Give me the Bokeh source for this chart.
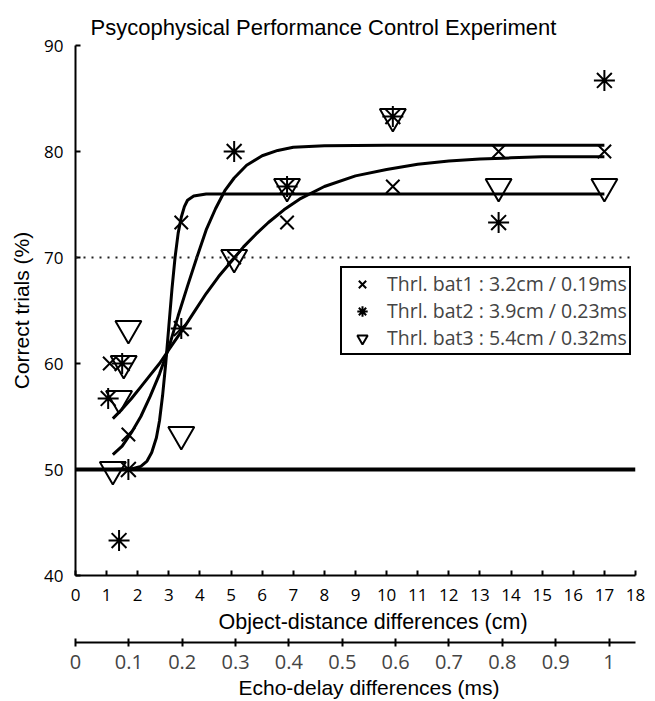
from bokeh.plotting import figure
from bokeh.models import (Range1d, LinearAxis, FixedTicker, Span, Legend, LegendItem, Title)
from bokeh.embed import file_html
from bokeh.resources import INLINE

# ---------------- data ----------------
# bat 1 (x markers)
bat1_cm = [1.1, 1.7, 3.4, 5.1, 6.8, 10.2, 13.6, 17.0]
bat1_pct = [60.0, 53.3, 73.3, 70.0, 73.3, 76.7, 80.0, 80.0]
# bat 2 (asterisks)
bat2_cm = [1.05, 1.5, 1.4, 1.7, 3.4, 5.1, 6.8, 10.2, 13.6, 17.0]
bat2_pct = [56.7, 60.0, 43.3, 50.0, 63.3, 80.0, 76.7, 83.3, 73.3, 86.7]
# bat 3 (triangles)
bat3_cm = [1.2, 1.4, 1.55, 1.7, 3.4, 5.1, 6.8, 10.2, 13.6, 17.0]
bat3_pct = [50.0, 56.7, 60.0, 63.3, 53.3, 70.0, 76.7, 83.3, 76.7, 76.7]

# fitted psychometric curves
fit1_cm = [1.2, 1.8, 2.1, 2.3, 2.45, 2.6, 2.7, 2.8, 2.9, 3.0, 3.1, 3.2, 3.3, 3.4, 3.5, 3.6, 3.8, 4.2, 17.0]
fit1_pct = [50.0, 50.05, 50.3, 50.8, 51.6, 53.0, 54.6, 57.0, 60.0, 63.5, 67.0, 70.0, 72.3, 73.8, 74.8, 75.4, 75.8, 76.0, 76.0]
fit2_cm = [1.2, 1.5, 1.8, 2.1, 2.4, 2.7, 3.0, 3.3, 3.6, 3.9, 4.2, 4.5, 4.8, 5.1, 5.5, 6.0, 6.5, 7.0, 8.0, 10.0, 17.0]
fit2_pct = [51.4, 52.2, 53.5, 55.0, 56.9, 59.0, 61.5, 64.5, 67.3, 70.0, 72.6, 74.6, 76.3, 77.5, 78.7, 79.6, 80.1, 80.4, 80.55, 80.6, 80.6]
fit3_cm = [1.2, 1.5, 1.8, 2.1, 2.4, 2.7, 3.0, 3.4, 3.8, 4.2, 4.6, 5.0, 5.4, 5.8, 6.2, 6.7, 7.2, 8.0, 9.0, 10.0, 11.0, 12.0, 13.0, 14.0, 15.0, 17.0]
fit3_pct = [54.8, 55.7, 56.7, 57.8, 58.9, 60.0, 61.3, 63.0, 64.8, 66.6, 68.2, 69.6, 71.0, 72.2, 73.3, 74.5, 75.5, 76.7, 77.7, 78.3, 78.8, 79.1, 79.3, 79.4, 79.5, 79.5]

chance_level = 50
criterion_level = 70

legend_labels = ["Thrl. bat1 : 3.2cm / 0.19ms",
                 "Thrl. bat2 : 3.9cm / 0.23ms",
                 "Thrl. bat3 : 5.4cm / 0.32ms"]

cm_ticks = list(range(0, 19))
pct_ticks = [40, 50, 60, 70, 80, 90]
ms_ticks = [0, 0.1, 0.2, 0.3, 0.4, 0.5, 0.6, 0.7, 0.8, 0.9, 1.0]
ms_labels = ["0", "0.1", "0.2", "0.3", "0.4", "0.5", "0.6", "0.7", "0.8", "0.9", "1"]
cm_max = 18
sound_speed_cm_per_ms = 34.3  # echo delay = 2 * distance / c

# ---------------- figure ----------------
TICK_FONT = "Open Sans"
LABEL_FONT = "Liberation Sans"

p = figure(frame_width=560, frame_height=530, x_range=Range1d(0, cm_max), y_range=Range1d(40, 90),
           output_backend="svg", toolbar_location=None,
           min_border_left=75, min_border_right=17, min_border_top=45, min_border_bottom=0)
p.xgrid.visible = False
p.ygrid.visible = False
p.outline_line_color = None
p.background_fill_color = "white"
p.border_fill_color = "white"

p.title.text = "Psycophysical Performance Control Experiment"
p.title.text_font = LABEL_FONT
p.title.text_font_size = "22px"
p.title.text_font_style = "normal"
p.title.align = "left"
p.title.vertical_align = "middle"
p.title.offset = 15
p.title.standoff = 10
p.title.text_color = "black"

for ax in (p.xaxis[0], p.yaxis[0]):
    ax.axis_line_width = 2
    ax.major_tick_line_width = 2
    ax.major_tick_in = 5
    ax.major_tick_out = 0
    ax.minor_tick_line_color = None
    ax.major_label_text_font = TICK_FONT
    ax.major_label_text_font_size = "17px"
    ax.major_label_text_color = "black"
    ax.axis_label_text_font = LABEL_FONT
    ax.axis_label_text_font_size = "21px"
    ax.axis_label_text_font_style = "normal"
    ax.axis_label_text_color = "black"

p.xaxis[0].ticker = FixedTicker(ticks=cm_ticks)
p.xaxis[0].major_label_standoff = 13
p.yaxis[0].ticker = FixedTicker(ticks=pct_ticks)
p.yaxis[0].axis_label = "Correct trials (%)"
p.yaxis[0].major_label_standoff = 12
p.yaxis[0].axis_label_standoff = 8

# x-axis title as a separate panel so the second axis can be spaced below it
xt = Title(text="Object-distance differences (cm)", align="left", offset=143,
           vertical_align="top",
           text_font=LABEL_FONT, text_font_size="21.5px", text_font_style="normal",
           text_color="black", standoff=13)
p.add_layout(xt, "below")

p.extra_x_ranges = {"ms": Range1d(0, cm_max * 2 / sound_speed_cm_per_ms)}
ms_axis = LinearAxis(x_range_name="ms", ticker=FixedTicker(ticks=ms_ticks),
                     major_label_overrides={t: l for t, l in zip(ms_ticks, ms_labels)})
ms_axis.axis_line_width = 2
ms_axis.major_tick_line_width = 2
ms_axis.major_tick_in = 4
ms_axis.major_tick_out = 4
ms_axis.minor_tick_line_color = None
ms_axis.major_label_text_font = TICK_FONT
ms_axis.major_label_text_font_size = "20px"
ms_axis.major_label_standoff = 8
p.add_layout(ms_axis, "below")

mt = Title(text="Echo-delay differences (ms)", align="left", offset=163,
           text_font=LABEL_FONT, text_font_size="21px", text_font_style="normal",
           text_color="black", standoff=4)
p.add_layout(mt, "below")

# reference lines
p.add_layout(Span(location=criterion_level, dimension="width", line_color="#222222",
                  line_width=2, line_dash="2 6"))
p.add_layout(Span(location=chance_level, dimension="width", line_color="black", line_width=4))

# fitted curves
for fx, fy in ((fit1_cm, fit1_pct), (fit2_cm, fit2_pct), (fit3_cm, fit3_pct)):
    p.line(fx, fy, line_color="black", line_width=3)

# data points
r1 = p.scatter(bat1_cm, bat1_pct, marker="x", size=19, line_color="black", line_width=2)
r2 = p.scatter(bat2_cm, bat2_pct, marker="asterisk", size=21, line_color="black", line_width=2)
r3 = p.scatter(bat3_cm, bat3_pct, marker="inverted_triangle", size=26, line_color="black",
               fill_color=None, line_width=2)

legend = Legend(items=[LegendItem(label=legend_labels[0], renderers=[r1]),
                       LegendItem(label=legend_labels[1], renderers=[r2]),
                       LegendItem(label=legend_labels[2], renderers=[r3])],
                location=(265, 220), orientation="vertical",
                glyph_width=36, glyph_height=26, label_height=20, spacing=0,
                padding=2, margin=0, label_standoff=7,
                label_text_font=TICK_FONT, label_text_font_size="19.5px",
                border_line_color="black", border_line_width=2, border_line_alpha=1.0,
                background_fill_color="white", background_fill_alpha=1.0)
p.add_layout(legend, "center")

open("out.html", "w").write(file_html(p, INLINE))
